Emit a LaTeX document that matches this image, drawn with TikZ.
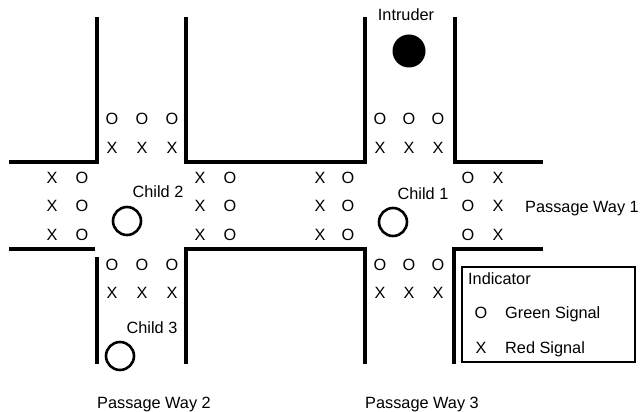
\documentclass[tikz,border=0pt]{standalone}
\usepackage{fontspec}
\setmainfont{Liberation Sans}
\begin{document}
\begin{tikzpicture}[x=1pt,y=-1pt,
  every node/.style={font=\fontsize{16.3}{19}\selectfont,inner sep=0pt},
  wall/.style={line width=3.2pt,line join=miter},
  sig/.style={anchor=base},
  lbl/.style={anchor=base},
  child/.style={circle,draw,line width=2.6pt,minimum size=28pt},
  intruder/.style={circle,fill=black,minimum size=33pt}]
\useasboundingbox (0,0) rectangle (640,412);
% walls
\draw[wall] (9,162) -- (97,162) -- (97,17);
\draw[wall] (186,17) -- (186,162) -- (365,162) -- (365,17);
\draw[wall] (455,17) -- (455,162) -- (543,162);
\draw[wall] (9,249) -- (95,249);
\draw[wall] (97,257) -- (97,364);
\draw[wall] (186,364) -- (186,249) -- (365,249) -- (365,364);
\draw[wall] (454,364) -- (454,249) -- (543,249);
% vertical passage signals (top and bottom)
\foreach \x [count=\i] in {112,142,172}{
  \node[sig] (tlo\i) at (\x,124) {O};
  \node[sig] (tlx\i) at (\x,153) {X};
  \node[sig] (blo\i) at (\x,270) {O};
  \node[sig] (blx\i) at (\x,298) {X};
}
\foreach \x [count=\i] in {380,409,438}{
  \node[sig] (tro\i) at (\x,124) {O};
  \node[sig] (trx\i) at (\x,153) {X};
  \node[sig] (bro\i) at (\x,270) {O};
  \node[sig] (brx\i) at (\x,298) {X};
}
% horizontal passage signals
\foreach \y [count=\i] in {183,211,240}{
  \node[sig] (ax\i) at (52,\y) {X};
  \node[sig] (ao\i) at (82,\y) {O};
  \node[sig] (bx\i) at (200,\y) {X};
  \node[sig] (bo\i) at (230,\y) {O};
  \node[sig] (cx\i) at (320,\y) {X};
  \node[sig] (co\i) at (348,\y) {O};
  \node[sig] (do\i) at (468,\y) {O};
  \node[sig] (dx\i) at (498,\y) {X};
}
% children and intruder
\node[child] (c2) at (127,221) {};
\node[lbl] (c2l) at (158,197) {Child 2};
\node[child] (c1) at (393,222) {};
\node[lbl] (c1l) at (423,199) {Child 1};
\node[child] (c3) at (120,356) {};
\node[lbl] (c3l) at (152,333) {Child 3};
\node[intruder] (intr) at (409,51) {};
\node[lbl] (intrl) at (406,21) {Intruder};
% passage labels
\node[lbl,anchor=base west] (pw1) at (525,212) {Passage Way 1};
\node[lbl] (pw2) at (154,408) {Passage Way 2};
\node[lbl] (pw3) at (422,408) {Passage Way 3};
% indicator box
\draw[line width=2.6pt] (462,267) rectangle (635,362);
\node[lbl,anchor=base west] (ind) at (468,284) {Indicator};
\node[lbl] (lego) at (481,318) {O};
\node[lbl,anchor=base west] (legg) at (505,318) {Green Signal};
\node[lbl] (legx) at (481,353) {X};
\node[lbl,anchor=base west] (legr) at (505,353) {Red Signal};
\end{tikzpicture}
\end{document}
